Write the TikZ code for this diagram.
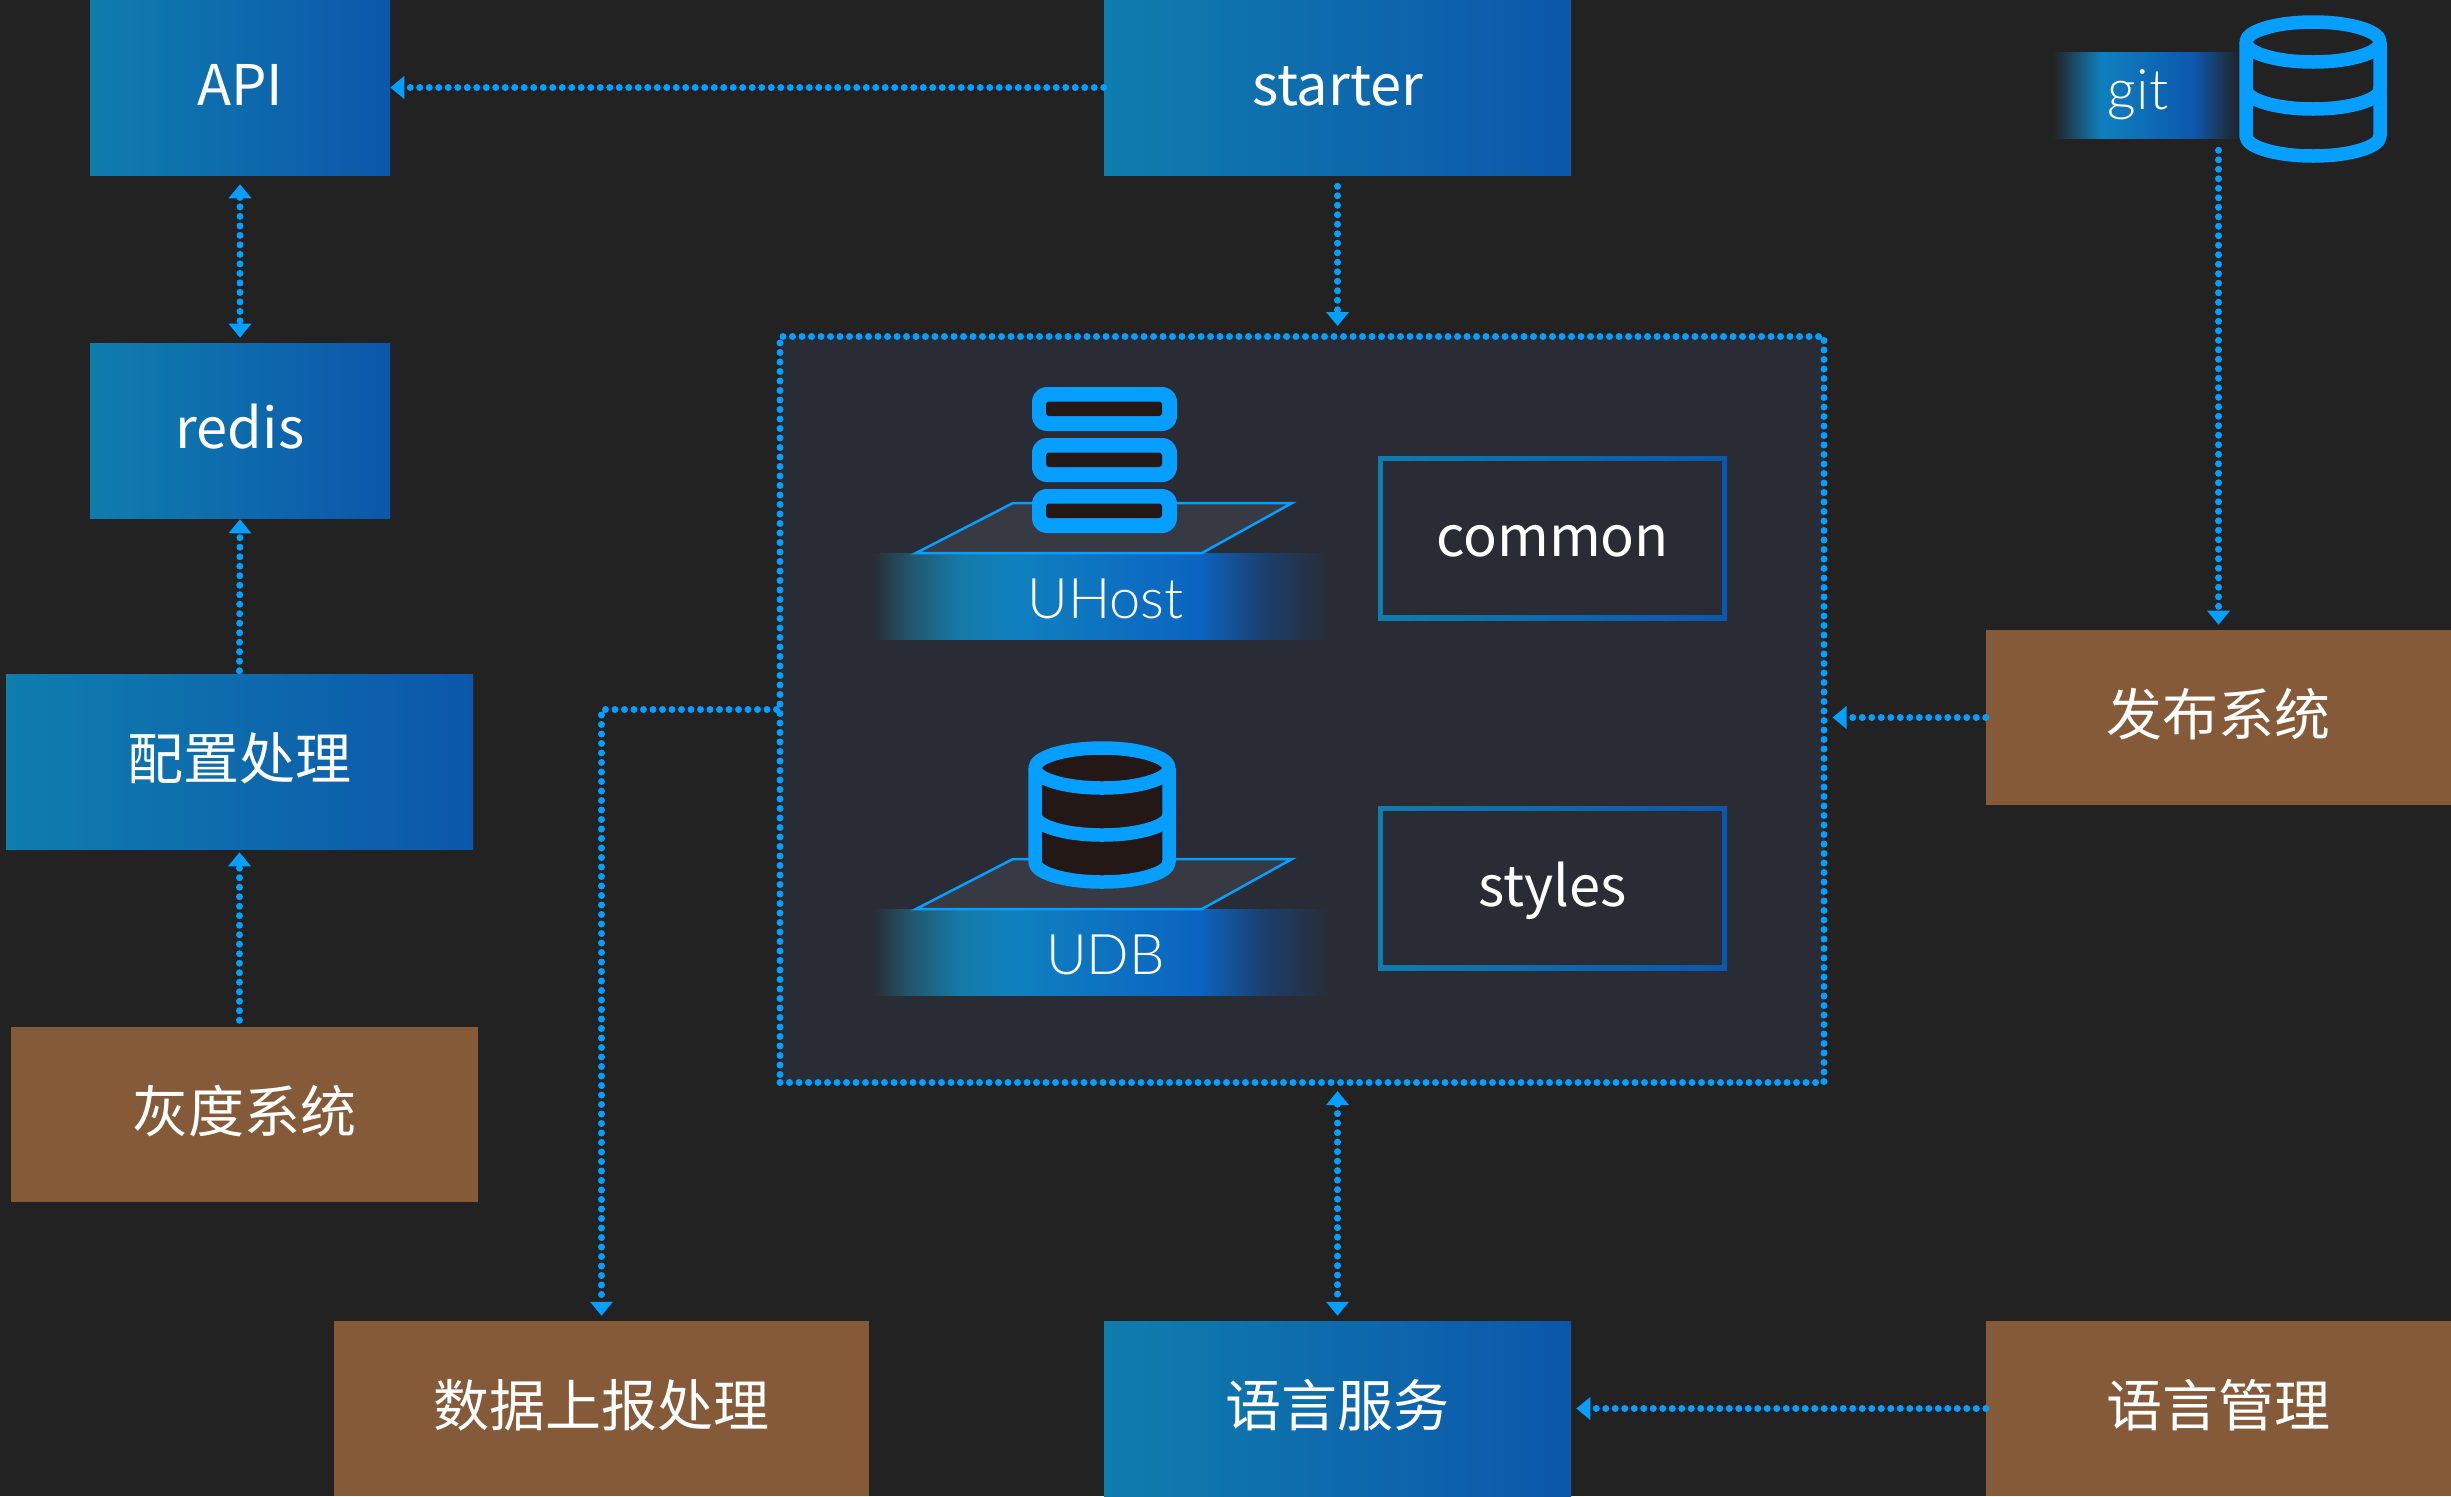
\documentclass[tikz,border=0pt]{standalone}
\usepackage{fontspec}
\usetikzlibrary{arrows.meta}
\setmainfont{Noto Sans CJK SC}
\newfontfamily\lightfont{Lato Light}
\newdimen\px \px=0.75pt
\definecolor{bgc}{HTML}{222222}
\definecolor{corec}{HTML}{292C34}
\definecolor{dotc}{HTML}{069FFF}
\definecolor{brownc}{HTML}{855A38}
\definecolor{tealc}{HTML}{0F7DAE}
\definecolor{bluec}{HTML}{0C57AB}
\definecolor{iconc}{HTML}{231815}
\definecolor{planec}{HTML}{383A43}
\definecolor{bmid}{HTML}{22566B}
\definecolor{bmid2}{HTML}{167AA8}
\definecolor{bpeak}{HTML}{0F80BF}
\definecolor{bblue}{HTML}{0B64C0}
\definecolor{bfade}{HTML}{1C3E6C}
\definecolor{gblue}{HTML}{0C58AC}
\pgfdeclarehorizontalshading{bandcore}{100bp}{
  color(0bp)=(corec); color(25bp)=(corec); color(29bp)=(bmid); color(34.5bp)=(bmid2); color(40.3bp)=(bpeak);
  color(60.7bp)=(bblue); color(68bp)=(bfade); color(75bp)=(corec); color(100bp)=(corec)}
\pgfdeclarehorizontalshading{bandgit}{100bp}{
  color(0bp)=(bgc); color(25bp)=(bgc); color(38bp)=(bpeak);
  color(63bp)=(gblue); color(75bp)=(bgc); color(100bp)=(bgc)}
\tikzset{
  x=0.75pt,y=-0.75pt,
  lbl/.style={text=white,font=\fontsize{42pt}{50pt}\selectfont,inner sep=0pt,text height=36\px,text depth=0pt},
  bluebox/.style={lbl,left color=tealc,right color=bluec,minimum height=175\px},
  brownbox/.style={lbl,fill=brownc,minimum height=175\px},
  frameouter/.style={inner sep=0pt,left color=tealc,right color=bluec,minimum width=349\px,minimum height=164\px},
  frameinner/.style={lbl,fill=corec,minimum width=339\px,minimum height=154\px},
  dots/.style={draw=dotc,line width=7\px,line cap=round,dash pattern=on 0pt off 9.5\px},
  conn/.style={dots},
  band/.style={text=white,font=\lightfont\fontsize{42pt}{50pt}\selectfont,inner sep=0pt,text height=45\px,text depth=0pt,shade,shading=bandcore,minimum width=457\px,minimum height=86\px},
  plane/.style={fill=planec,draw=dotc,line width=2.5\px,line join=miter},
  cyl/.style={draw=dotc,line width=13.5\px,line join=round},
}
\tikzset{mytip/.tip={Triangle[length=10.5pt,width=16.5pt]}}
\newcommand{\cylinder}[3]{%
 \begin{scope}[shift={(#1,#2)}]
  \fill[#3] (-67,0) .. controls (-67,-11) and (-37,-20) .. (0,-20) .. controls (37,-20) and (67,-11) .. (67,0)
    -- (67,94) .. controls (67,105) and (37,114) .. (0,114) .. controls (-37,114) and (-67,105) .. (-67,94) -- cycle;
  \draw[cyl] (-67,0) .. controls (-67,-11) and (-37,-20) .. (0,-20) .. controls (37,-20) and (67,-11) .. (67,0)
    .. controls (67,11) and (37,20) .. (0,20) .. controls (-37,20) and (-67,11) .. (-67,0) -- cycle;
  \draw[cyl] (-67,0) -- (-67,94) .. controls (-67,105) and (-37,114) .. (0,114) .. controls (37,114) and (67,105) .. (67,94) -- (67,0);
  \draw[cyl] (-67,47) .. controls (-67,58) and (-37,67) .. (0,67) .. controls (37,67) and (67,58) .. (67,47);
 \end{scope}}
\newcommand{\serverbar}[1]{%
  \fill[dotc,rounded corners=15\px] (1032,#1) rectangle (1177,#1+44);
  \fill[iconc,rounded corners=3\px] (1046,#1+14.5) rectangle (1162,#1+29);}
\begin{document}
\begin{tikzpicture}
\useasboundingbox (0,0) rectangle (2451,1496);
\fill[bgc] (0,0) rectangle (2451,1496);

\node[bluebox,minimum width=300\px] (api) at (240,87.5) {API};
\node[bluebox,minimum width=467\px] (starter) at (1337.5,87.5) {starter};
\node[bluebox,minimum width=300\px] (redis) at (240,430.5) {redis};
\node[bluebox,minimum width=467\px] (config) at (239.5,761.5) {配置处理};
\node[brownbox,minimum width=467\px] (gray) at (244.5,1114) {灰度系统};
\node[brownbox,minimum width=535\px] (data) at (601.5,1408.5) {数据上报处理};
\node[bluebox,minimum width=467\px] (lang) at (1337.5,1408.5) {语言服务};
\node[brownbox,minimum width=465\px] (mgmt) at (2218.5,1408.5) {语言管理};
\node[brownbox,minimum width=465\px] (pub) at (2218.5,717.5) {发布系统};

\node[fill=corec,dots,minimum width=1044\px,minimum height=746\px,inner sep=0pt] (core) at (1302,709.5) {};
\node[frameouter] (commonframe) at (1552.5,538) {};
\node[frameinner] (common) at (commonframe.center) {common};
\node[frameouter] (stylesframe) at (1552.5,888) {};
\node[frameinner] (styles) at (stylesframe.center) {styles};

\node[band] (uhost) at (1101.5,596) {\kern8\px UHost};
\draw[plane] (916,553) -- (1013,503) -- (1292,503) -- (1202,553) -- cycle;
\serverbar{387}
\serverbar{438}
\serverbar{489}

\node[band] (udb) at (1101.5,952) {\kern8\px UDB};
\draw[plane] (916,909) -- (1013,859) -- (1292,859) -- (1202,909) -- cycle;
\cylinder{1102}{768}{iconc}

\node[text=white,font=\lightfont\fontsize{42pt}{50pt}\selectfont,inner sep=0pt,text height=29\px,text depth=0pt,shade,shading=bandgit,minimum width=186\px,minimum height=86\px] (git) at (2146,95) {git\kern16\px};
\cylinder{2313}{42}{bgc}

\draw[conn,-{mytip}] (starter.west) -- (api.east);
\draw[conn,{mytip}-{mytip},shorten <=9\px,shorten >=5\px] (api.south) -- (redis.north);
\draw[conn,-{mytip},shorten <=3\px,shorten >=1\px] (config.north) -- (redis.south);
\draw[conn,-{mytip},shorten <=6\px,shorten >=3\px] (gray.north -| config.south) -- (config.south);
\draw[conn,-{mytip},shorten <=11\px,shorten >=7\px] (starter.south) -- (starter.south |- core.north);
\draw[conn,-{mytip},shorten <=12\px,shorten >=5\px] (pub.north |- git.south) -- (pub.north);
\draw[conn,-{mytip},shorten >=5\px] (pub.west) -- (pub.west -| core.east);
\draw[conn,-{mytip},shorten >=5\px] (core.west) -| (data.north);
\draw[conn,{mytip}-{mytip},shorten <=5\px,shorten >=5\px] (core.south -| lang.north) -- (lang.north);
\draw[conn,-{mytip},shorten >=5\px] (mgmt.west) -- (lang.east);
\end{tikzpicture}
\end{document}
